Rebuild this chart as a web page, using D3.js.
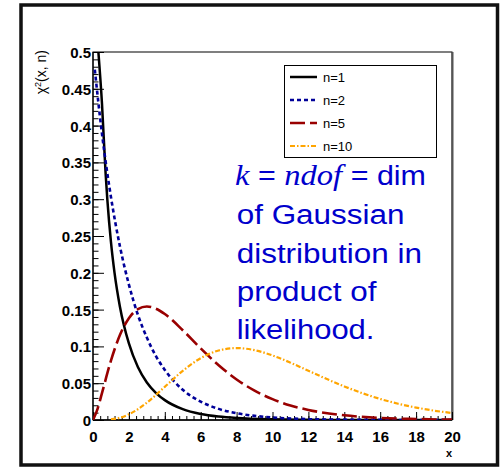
<!DOCTYPE html>
<html><head><meta charset="utf-8">
<script src="https://cdn.jsdelivr.net/npm/d3@7"></script>
<style>
html,body{margin:0;padding:0;background:#fff;}
svg{display:block;}
</style></head>
<body>
<svg id="chart" width="501" height="467"></svg>
<script>
// ---- data ----
const seriesNames = ["n=1", "n=2", "n=5", "n=10"];
const n1X = [0.3, 0.5, 0.7, 0.8, 1.0, 1.2, 1.5, 2.0, 2.5, 3.0, 3.5, 4.0, 5.0, 6.0, 7.0, 8.0, 10, 12, 14, 16, 18, 20];
const n1Y = [0.5, 0.43, 0.336, 0.299, 0.242, 0.200, 0.154, 0.104, 0.072, 0.051, 0.037, 0.027, 0.0147, 0.0081, 0.0046, 0.0026, 0.00085, 0.0003, 0.0001, 0.00004, 0.00001, 0.000004];
const n2X = [0.1, 0.5, 1, 1.5, 2, 2.5, 3, 3.5, 4, 5, 6, 7, 8, 9, 10, 12, 14, 16, 18, 20];
const n2Y = [0.476, 0.389, 0.303, 0.236, 0.184, 0.143, 0.112, 0.087, 0.068, 0.041, 0.025, 0.0151, 0.0092, 0.0056, 0.0034, 0.0012, 0.00046, 0.00017, 0.00006, 0.00002];
const n5X = [0, 0.25, 0.5, 1, 1.5, 2, 2.5, 3, 3.5, 4, 5, 6, 7, 8, 9, 10, 11, 12, 14, 16, 18, 20];
const n5Y = [0, 0.0147, 0.0366, 0.0807, 0.1154, 0.1384, 0.1506, 0.1542, 0.1513, 0.1440, 0.1220, 0.0973, 0.0744, 0.0551, 0.0399, 0.0283, 0.0198, 0.0137, 0.0064, 0.0029, 0.0013, 0.0005];
const n10X = [1, 1.5, 2, 3, 4, 5, 6, 7, 8, 9, 10, 11, 12, 13, 14, 15, 16, 17, 18, 19, 20];
const n10Y = [0.0008, 0.0031, 0.0077, 0.0235, 0.0451, 0.0668, 0.0840, 0.0944, 0.0977, 0.0949, 0.0877, 0.0779, 0.0669, 0.0559, 0.0456, 0.0365, 0.0286, 0.0221, 0.0169, 0.0127, 0.0095];
const xTickLabels = ["0","2","4","6","8","10","12","14","16","18","20"];
const yTickLabels = ["0","0.05","0.1","0.15","0.2","0.25","0.3","0.35","0.4","0.45","0.5"];
const textLines = ["k = ndof = dim", "of Gaussian", "distribution in", "product of", "likelihood."];

// ---- layout ----
const svg = d3.select("#chart");
const L = 93, R = 452, T = 52, B = 420;
const x = d3.scaleLinear().domain([0, 20]).range([L, R]);
const y = d3.scaleLinear().domain([0, 0.5]).range([B, T]);

// outer frame
svg.append("rect").attr("x", 21).attr("y", 5).attr("width", 476.5).attr("height", 460)
  .attr("fill", "none").attr("stroke", "#111").attr("stroke-width", 3.5);

// plot frame
svg.append("rect").attr("x", L).attr("y", T).attr("width", R - L).attr("height", B - T)
  .attr("fill", "#fff").attr("stroke", "#000").attr("stroke-width", 1);
svg.append("line").attr("x1", R + 0.5).attr("x2", R + 0.5).attr("y1", T).attr("y2", B)
  .attr("stroke", "#555").attr("stroke-width", 2);

svg.append("defs").append("clipPath").attr("id", "clip")
  .append("rect").attr("x", L).attr("y", T).attr("width", R - L).attr("height", B - T);

// axes
const xMinor = d3.range(0, 20.001, 0.4);
const yMinor = d3.range(0, 0.5001, 0.01);
const xAxisMinor = d3.axisBottom(x).tickValues(xMinor).tickSize(-4).tickFormat("");
const xAxisMajor = d3.axisBottom(x).tickValues(xTickLabels.map(Number)).tickSize(-8)
  .tickFormat((d, i) => xTickLabels[i]).tickPadding(14);
const yAxisMinor = d3.axisLeft(y).tickValues(yMinor).tickSize(-5.5).tickFormat("");
const yAxisMajor = d3.axisLeft(y).tickValues(yTickLabels.map(Number)).tickSize(-11)
  .tickFormat((d, i) => yTickLabels[i]).tickPadding(2);

function styleAxis(g) {
  g.select(".domain").remove();
  g.selectAll("line").attr("stroke", "#000").attr("stroke-width", 1);
  g.selectAll("text").attr("fill", "#000").attr("font-family", "'Liberation Sans', Arial, sans-serif")
    .attr("font-weight", "bold").attr("font-size", 15);
}
svg.append("g").attr("transform", `translate(0,${B})`).call(xAxisMinor).call(styleAxis);
const gx = svg.append("g").attr("transform", `translate(0,${B})`).call(xAxisMajor).call(styleAxis);
gx.selectAll("text").attr("dy", null).attr("y", 22);
svg.append("g").attr("transform", `translate(${L},0)`).call(yAxisMinor).call(styleAxis);
const gy = svg.append("g").attr("transform", `translate(${L},0)`).call(yAxisMajor).call(styleAxis);
gy.selectAll("text").attr("x", -2).attr("dy", "0.36em");

// axis lines
svg.append("line").attr("x1", L).attr("x2", R).attr("y1", B).attr("y2", B).attr("stroke", "#000").attr("stroke-width", 1.6);
svg.append("line").attr("x1", L).attr("x2", L).attr("y1", T).attr("y2", B).attr("stroke", "#000").attr("stroke-width", 1.2);

// axis titles
svg.append("text").attr("x", R).attr("y", 457).attr("text-anchor", "end")
  .attr("font-family", "'Liberation Sans', Arial, sans-serif").attr("font-weight", "bold").attr("font-size", 11)
  .text("x");
const yt = svg.append("text").attr("transform", `translate(46,50) rotate(-90)`).attr("text-anchor", "end")
  .attr("font-family", "'Liberation Sans', Arial, sans-serif").attr("font-size", 14).attr("fill", "#000");
yt.append("tspan").text("χ");
yt.append("tspan").attr("font-size", 9).attr("dy", -5).text("2");
yt.append("tspan").attr("dy", 5).text("(x, n)");

// series
const series = [
  {name: seriesNames[0], xs: n1X, ys: n1Y, color: "#000000", dash: null, w: 2.5},
  {name: seriesNames[1], xs: n2X, ys: n2Y, color: "#000099", dash: "4,3", w: 2.6},
  {name: seriesNames[2], xs: n5X, ys: n5Y, color: "#990000", dash: "15,5", w: 2.6},
  {name: seriesNames[3], xs: n10X, ys: n10Y, color: "#ffa500", dash: "5,2,1.5,2", w: 2.2}
];
const line = d3.line().x(d => x(d[0])).y(d => y(d[1])).curve(d3.curveMonotoneX);
const gLines = svg.append("g").attr("clip-path", "url(#clip)");
series.forEach(s => {
  gLines.append("path").datum(s.xs.map((v, i) => [v, s.ys[i]]))
    .attr("d", line).attr("fill", "none").attr("stroke", s.color)
    .attr("stroke-width", s.w).attr("stroke-dasharray", s.dash);
});

// legend
const lg = svg.append("g");
lg.append("rect").attr("x", 284.5).attr("y", 65.5).attr("width", 152).attr("height", 92)
  .attr("fill", "#fff").attr("stroke", "#000").attr("stroke-width", 1);
series.forEach((s, i) => {
  const yy = 77 + i * 23;
  lg.append("line").attr("x1", 290).attr("x2", 317).attr("y1", yy).attr("y2", yy)
    .attr("stroke", s.color).attr("stroke-width", s.w).attr("stroke-dasharray", s.dash);
  lg.append("text").attr("x", 323).attr("y", yy + 4.5)
    .attr("font-family", "'Liberation Sans', Arial, sans-serif").attr("font-size", 13).text(s.name);
});

// annotation text
const targets = [[235, 426, 185], [236.7, 404.5, 224], [236.7, 422, 262.5], [236.7, 376.7, 300.5], [236.7, 374.5, 338.5]];
textLines.forEach((t, i) => {
  const tx = svg.append("text").attr("font-family", "'Liberation Sans', Arial, sans-serif")
    .attr("font-size", 28).attr("fill", "#0000cc");
  if (i === 0) {
    const parts = t.split(" ");
    tx.append("tspan").attr("font-family", "'Liberation Serif', 'Times New Roman', serif").attr("font-style", "italic").attr("font-size", 30).text(parts[0]);
    tx.append("tspan").text(" " + parts[1] + " ");
    tx.append("tspan").attr("font-family", "'Liberation Serif', 'Times New Roman', serif").attr("font-style", "italic").attr("font-size", 30).text(parts[2]);
    tx.append("tspan").text(" " + parts.slice(3).join(" "));
  } else {
    tx.text(t);
  }
  const bb = tx.node().getBBox();
  const [x0, x1, base] = targets[i];
  const s = (x1 - x0) / bb.width;
  tx.attr("transform", `translate(${x0 - bb.x * s},${base}) scale(${s},1)`);
});
</script>
</body></html>
